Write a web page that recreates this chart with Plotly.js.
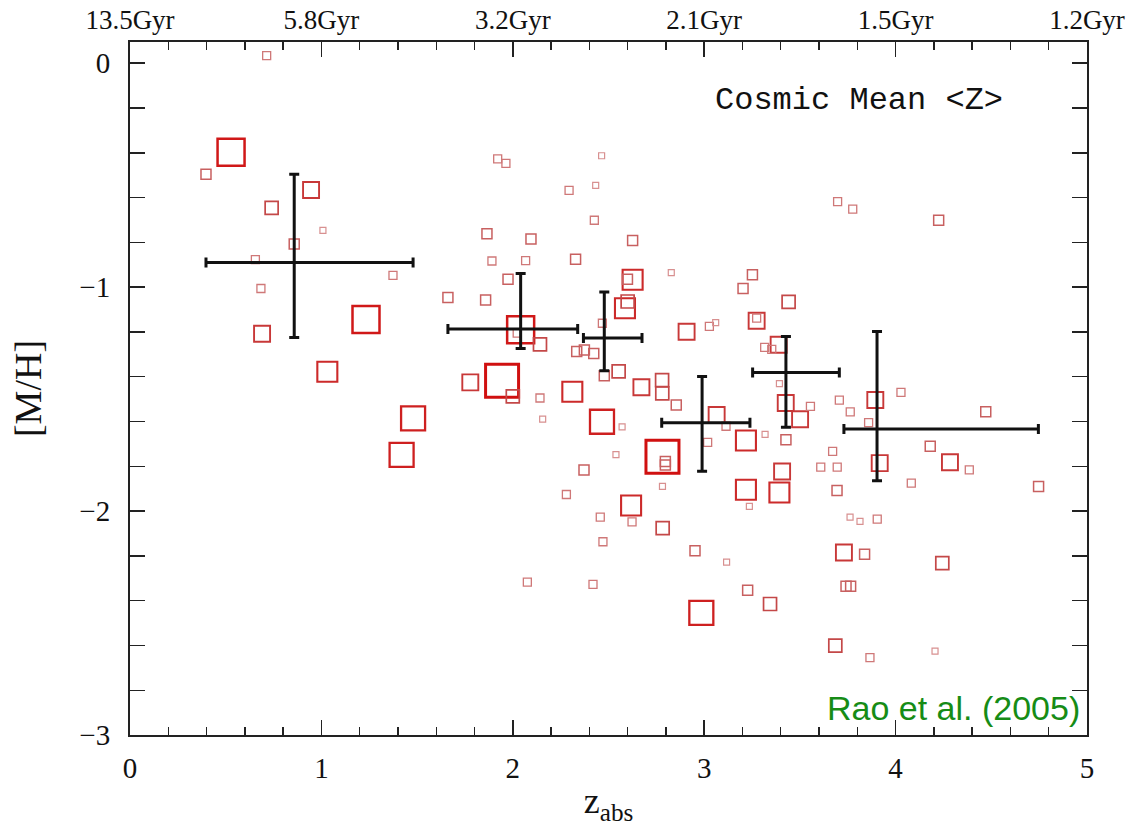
<!DOCTYPE html>
<html>
<head>
<meta charset="utf-8">
<script src="https://cdn.plot.ly/plotly-3.0.1.min.js"></script>
<style>html,body{margin:0;padding:0;background:#fff}#chart{width:1146px;height:826px}</style>
</head>
<body>
<div id="chart"></div>
<script>
// Absorber redshifts, metallicities and weight classes (symbol size class)
const zAbs = [0.714,0.528,0.397,0.946,0.740,1.008,0.858,0.655,1.374,0.684,1.661,0.690,1.233,1.031,1.479,1.419,
  1.921,1.964,2.464,2.294,2.433,2.426,1.865,2.095,2.626,1.891,2.067,2.328,1.975,2.626,2.599,2.828,3.252,3.203,1.858,
  2.600,2.586,2.908,3.027,3.060,3.274,3.274,2.041,2.023,2.142,2.468,2.334,2.374,2.423,2.478,2.553,1.778,1.944,2.000,
  2.142,2.311,2.156,2.466,2.571,2.672,2.780,2.781,2.854,2.782,2.797,2.797,2.539,2.372,3.065,3.114,3.018,3.218,
  2.782,2.280,2.618,2.457,2.623,2.783,2.471,2.952,3.117,3.227,2.076,2.419,2.985,3.218,3.236,
  3.697,3.776,4.225,3.441,3.389,3.316,3.353,3.393,3.426,3.555,3.501,3.706,3.763,3.894,4.028,4.471,3.859,3.318,3.427,
  3.671,3.917,4.181,4.284,4.385,3.609,3.695,3.407,
  3.393,4.082,4.747,3.694,3.762,3.814,3.904,3.730,3.838,4.244,3.344,3.741,3.765,3.685,3.866,4.206];
const metalMH = [0.034,-0.397,-0.496,-0.566,-0.646,-0.746,-0.807,-0.877,-0.947,-1.006,-1.046,-1.208,-1.144,-1.378,-1.586,-1.749,
  -0.427,-0.447,-0.413,-0.568,-0.545,-0.701,-0.761,-0.785,-0.791,-0.883,-0.881,-0.875,-0.965,-0.967,-0.965,-0.935,-0.945,-1.006,-1.057,
  -1.064,-1.094,-1.199,-1.175,-1.158,-1.150,-1.138,-1.190,-1.205,-1.255,-1.161,-1.287,-1.280,-1.296,-1.395,-1.376,-1.425,-1.418,-1.488,
  -1.495,-1.467,-1.589,-1.601,-1.624,-1.447,-1.415,-1.474,-1.526,-1.757,-1.779,-1.794,-1.748,-1.816,-1.571,-1.621,-1.693,-1.685,
  -1.890,-1.926,-1.975,-2.027,-2.048,-2.076,-2.137,-2.177,-2.228,-2.354,-2.317,-2.327,-2.455,-1.905,-1.979,
  -0.618,-0.651,-0.701,-1.066,-1.257,-1.269,-1.278,-1.431,-1.517,-1.532,-1.590,-1.504,-1.557,-1.504,-1.470,-1.556,-1.605,-1.657,-1.681,
  -1.733,-1.786,-1.710,-1.782,-1.816,-1.804,-1.804,-1.823,
  -1.917,-1.875,-1.890,-1.908,-2.027,-2.046,-2.036,-2.185,-2.193,-2.232,-2.415,-2.336,-2.336,-2.601,-2.654,-2.625];
const weightClass = [2,8,3,5,4,1,3,2,2,2,3,5,8,6,7,7,
  2,2,1,2,1,2,3,3,3,2,2,3,3,6,3,1,3,3,3,
  4,6,5,2,1,5,2,8,2,4,2,3,3,3,3,4,5,9,4,
  2,6,1,7,1,5,4,4,3,9,3,3,1,3,5,2,2,6,
  1,2,6,2,2,4,2,3,1,3,2,2,7,6,1,
  2,2,3,4,5,2,2,1,5,2,5,2,2,5,2,3,2,1,3,
  2,5,3,5,2,2,2,5,
  6,2,3,3,1,1,2,5,3,4,4,3,3,4,2,1];

// Binned cosmic mean metallicity
const binZ    = [0.858, 2.041, 2.478, 2.989, 3.427, 3.903];
const binMH   = [-0.890, -1.187, -1.227, -1.606, -1.381, -1.633];
const binZlo  = [0.397, 1.661, 2.369, 2.778, 3.253, 3.730];
const binZhi  = [1.479, 2.339, 2.675, 3.239, 3.706, 4.746];
const binMHlo = [-1.225, -1.274, -1.373, -1.822, -1.626, -1.864];
const binMHhi = [-0.496, -0.939, -1.022, -1.399, -1.220, -1.198];

// Top axis: lookback age labels
const ageTickZ = [0, 1, 2, 3, 4, 5];
const ageTickText = ['13.5Gyr', '5.8Gyr', '3.2Gyr', '2.1Gyr', '1.5Gyr', '1.2Gyr'];

const classSize  = {1:6, 2:8, 3:10, 4:13, 5:16, 6:20, 7:24, 8:27, 9:33};
const classColor = {1:'#d89090',2:'#cf7878',3:'#c86060',4:'#c44848',5:'#c83838',6:'#cc2a2a',7:'#ce2020',8:'#d01818',9:'#d01010'};
const classLine  = {1:1.2,2:1.3,3:1.5,4:1.7,5:1.9,6:2.1,7:2.3,8:2.5,9:3};

const order = weightClass.map((_, i) => i).sort((a, b) => weightClass[b] - weightClass[a]);
const pts = {
  x: order.map(i => zAbs[i]),
  y: order.map(i => metalMH[i]),
  type: 'scatter', mode: 'markers', hoverinfo: 'x+y', showlegend: false,
  marker: {
    symbol: 'square-open', opacity: 1,
    size: order.map(i => classSize[weightClass[i]]),
    color: order.map(i => classColor[weightClass[i]]),
    line: {width: order.map(i => classLine[weightClass[i]])}
  }
};

const bins = {
  x: binZ, y: binMH, type: 'scatter', mode: 'markers', showlegend: false,
  marker: {size: 1, color: 'rgba(0,0,0,0)'},
  error_x: {type: 'data', symmetric: false,
    array: binZ.map((v, i) => binZhi[i] - v),
    arrayminus: binZ.map((v, i) => v - binZlo[i]),
    color: '#111', thickness: 3, width: 5},
  error_y: {type: 'data', symmetric: false,
    array: binMH.map((v, i) => binMHhi[i] - v),
    arrayminus: binMH.map((v, i) => v - binMHlo[i]),
    color: '#111', thickness: 3, width: 5}
};

const topDummy = {x: ageTickZ, y: ageTickZ.map(() => -1), xaxis: 'x2', type: 'scatter', mode: 'markers',
  marker: {size: 1, color: 'rgba(0,0,0,0)'}, showlegend: false, hoverinfo: 'skip'};

const tickFont = {family: 'Liberation Serif, DejaVu Serif, serif', size: 29, color: '#111'};
const axisCommon = {
  showgrid: false, zeroline: false, showline: true, linecolor: '#222', linewidth: 2,
  ticks: 'inside', ticklen: 15, tickwidth: 1.6, tickcolor: '#222', tickfont: tickFont
};

const layout = {
  width: 1146, height: 826,
  margin: {l: 130, r: 59, t: 42, b: 91},
  paper_bgcolor: '#fff', plot_bgcolor: '#fff',
  xaxis: Object.assign({}, axisCommon, {
    range: [0, 5], dtick: 1, tick0: 0, mirror: false, ticklabelstandoff: 6,
    minor: {dtick: 0.2, ticklen: 8, ticks: 'inside', tickwidth: 1.4, tickcolor: '#222'},
    title: {text: 'z<sub>abs</sub>', font: {family: 'Liberation Serif, DejaVu Serif, serif', size: 36, color: '#111'}, standoff: 8}
  }),
  xaxis2: Object.assign({}, axisCommon, {
    range: [0, 5], overlaying: 'x', side: 'top', tickmode: 'array', tickvals: ageTickZ, ticktext: ageTickText,
    ticklabelstandoff: 0, tickfont: {family: 'Liberation Serif, DejaVu Serif, serif', size: 27, color: '#111'},
    minor: {dtick: 0.2, ticklen: 8, ticks: 'inside', tickwidth: 1.4, tickcolor: '#222'}
  }),
  yaxis: Object.assign({}, axisCommon, {
    range: [-3, 0.095], dtick: 1, tick0: 0, mirror: 'allticks', ticklabelstandoff: 12,
    minor: {dtick: 0.2, ticklen: 8, ticks: 'inside', tickwidth: 1.4, tickcolor: '#222'},
    title: {text: '[M/H]', font: {family: 'Liberation Serif, DejaVu Serif, serif', size: 38, color: '#111'}, standoff: 26}
  }),
  annotations: [
    {text: 'Cosmic Mean &lt;Z&gt;', xref: 'paper', yref: 'paper', x: 0.914, y: 0.916, xanchor: 'right', yanchor: 'middle',
     showarrow: false, font: {family: 'Liberation Mono, DejaVu Sans Mono, monospace', size: 32, color: '#111'}},
    {text: 'Rao et al. (2005)', xref: 'paper', yref: 'paper', x: 0.995, y: 0.008, xanchor: 'right', yanchor: 'bottom',
     showarrow: false, font: {family: 'Liberation Sans, Arial, sans-serif', size: 34, color: '#168c16'}}
  ]
};

Plotly.newPlot('chart', [pts, topDummy, bins], layout, {staticPlot: true, displayModeBar: false});
</script>
</body>
</html>
